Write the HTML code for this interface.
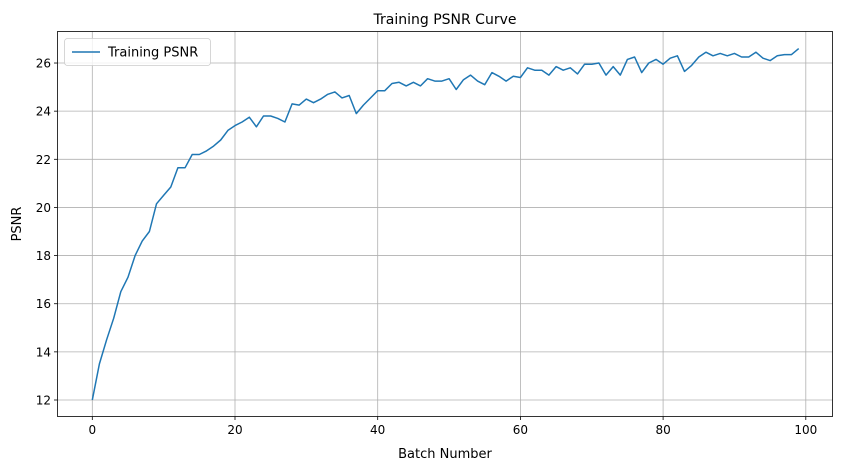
<!DOCTYPE html>
<html><head><meta charset="utf-8"><style>
body{margin:0;background:#fff;}
svg text{font-family:"DejaVu Sans","Liberation Sans",sans-serif;fill:#000;}
</style></head><body>
<svg id="s" width="842" height="470" xmlns="http://www.w3.org/2000/svg">
<rect width="842" height="470" fill="#fff"/>
<g id="grid" stroke="#b0b0b0" stroke-width="0.8"></g>
<g id="ticks" stroke="#000" stroke-width="0.8"></g>
<g id="labels" font-size="12"></g>
<polyline id="line" fill="none" stroke="#1f77b4" stroke-width="1.5" stroke-linejoin="round"/>
<rect x="57.5" y="31.5" width="775" height="385" fill="none" stroke="#000" stroke-width="0.8"/>
<text x="445" y="24" font-size="14" text-anchor="middle">Training PSNR Curve</text>
<text x="445" y="458" font-size="13" text-anchor="middle">Batch Number</text>
<text transform="translate(21,224) rotate(-90)" font-size="13" text-anchor="middle">PSNR</text>
<rect x="64.5" y="38.5" width="146" height="27" rx="3" fill="#fff" fill-opacity="0.8" stroke="#ccc" stroke-width="0.8"/>
<line x1="72" y1="52" x2="100" y2="52" stroke="#1f77b4" stroke-width="1.5"/>
<text x="108" y="56.5" font-size="13">Training PSNR</text>
</svg>
<script>
var d=[12.0,13.5,14.5,15.4,16.5,17.1,18.0,18.6,19.0,20.15,20.5,20.85,21.65,21.65,22.2,22.2,22.35,22.55,22.8,23.2,23.4,23.55,23.75,23.35,23.8,23.8,23.7,23.55,24.3,24.25,24.5,24.35,24.5,24.7,24.8,24.55,24.65,23.9,24.25,24.55,24.85,24.85,25.15,25.2,25.05,25.2,25.05,25.35,25.25,25.25,25.35,24.9,25.3,25.5,25.25,25.1,25.6,25.45,25.25,25.45,25.4,25.8,25.7,25.7,25.5,25.85,25.7,25.8,25.55,25.95,25.95,26.0,25.5,25.85,25.5,26.15,26.25,25.6,26.0,26.15,25.95,26.2,26.3,25.65,25.9,26.25,26.45,26.3,26.4,26.3,26.4,26.25,26.25,26.45,26.2,26.1,26.3,26.35,26.35,26.6];
function X(v){return 92.3+v*7.135;}
function Y(v){return 400-(v-12)*24.07;}
var ns="http://www.w3.org/2000/svg";
function el(p,t,a,txt){var e=document.createElementNS(ns,t);for(var k in a)e.setAttribute(k,a[k]);if(txt!==undefined)e.textContent=txt;document.getElementById(p).appendChild(e);}
for(var i=0;i<=100;i+=20){var x=X(i);el("grid","line",{x1:x,x2:x,y1:31.5,y2:416.5});el("ticks","line",{x1:x,x2:x,y1:416.5,y2:420});el("labels","text",{x:x,y:434,"text-anchor":"middle"},i);}
for(var v=12;v<=26;v+=2){var y=Y(v);el("grid","line",{x1:57.5,x2:832.5,y1:y,y2:y});el("ticks","line",{x1:54,x2:57.5,y1:y,y2:y});el("labels","text",{x:51,y:y+4.5,"text-anchor":"end"},v);}
document.getElementById("line").setAttribute("points",d.map(function(v,i){return X(i).toFixed(1)+","+Y(v).toFixed(1);}).join(" "));
</script>
</body></html>
